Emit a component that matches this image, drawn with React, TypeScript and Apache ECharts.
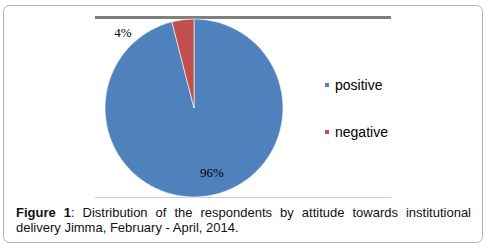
import React, { useEffect, useRef } from "react";
import * as echarts from "echarts";

const categories = ["positive", "negative"];
const values = [96, 4];
const sliceColors = ["#4F81BD", "#C0504D"];
const captionLine1 = "Figure 1: Distribution of the respondents by attitude towards institutional";
const captionLine2 = "delivery Jimma, February - April, 2014.";
const boldPrefix = "Figure 1";

const SANS = '"Liberation Sans", Arial, Helvetica, sans-serif';
const SERIF = '"Liberation Serif", "Times New Roman", serif';

function buildCaption(): any[] {
  const canvas = document.createElement("canvas");
  const ctx = canvas.getContext("2d")!;
  const measure = (t: string, bold: boolean) => {
    ctx.font = `${bold ? "bold " : ""}13px ${SANS}`;
    return ctx.measureText(t).width;
  };
  const words = captionLine1.split(" ");
  let consumed = 0;
  const segWords = words.map((w) => {
    const segs: { t: string; b: boolean }[] = [];
    const start = consumed;
    const boldChars = Math.max(0, Math.min(w.length, boldPrefix.length - start));
    if (boldChars > 0) segs.push({ t: w.slice(0, boldChars), b: true });
    if (boldChars < w.length) segs.push({ t: w.slice(boldChars), b: false });
    consumed += w.length + 1;
    return segs;
  });
  const widths = segWords.map((segs) => segs.reduce((s, g) => s + measure(g.t, g.b), 0));
  const left = 16;
  const right = 471;
  const total = widths.reduce((a, b) => a + b, 0);
  const gap = (right - left - total) / (words.length - 1);
  const els: any[] = [];
  let x = left;
  segWords.forEach((segs, i) => {
    let sx = x;
    segs.forEach((g) => {
      els.push({
        type: "text",
        x: sx,
        y: 212.5,
        style: {
          text: g.t,
          fill: "#111",
          font: `${g.b ? "bold " : ""}13px ${SANS}`,
          textAlign: "left",
          textVerticalAlign: "middle",
        },
      });
      sx += measure(g.t, g.b);
    });
    x += widths[i] + gap;
  });
  els.push({
    type: "text",
    x: left,
    y: 227.5,
    style: {
      text: captionLine2,
      fill: "#111",
      font: `13px ${SANS}`,
      textAlign: "left",
      textVerticalAlign: "middle",
    },
  });
  return els;
}

export default function App() {
  const ref = useRef<HTMLDivElement>(null);
  useEffect(() => {
    if (!ref.current) return;
    const chart = echarts.init(ref.current, undefined, { renderer: "svg" });
    const labelOffsets = [
      [12, 17],
      [-65, -28],
    ];
    chart.setOption({
      animation: false,
      backgroundColor: "#ffffff",
      legend: {
        data: categories,
        orient: "vertical",
        left: 318,
        top: 72,
        icon: "rect",
        itemWidth: 6,
        itemHeight: 6,
        itemGap: 31,
        selectedMode: false,
        textStyle: { fontSize: 14, fontFamily: SANS, color: "#000", lineHeight: 16 },
      },
      graphic: [
        {
          type: "rect",
          shape: { x: 3.5, y: 5.5, width: 479, height: 237, r: 6 },
          style: { fill: "none", stroke: "#b0b0b0", lineWidth: 1 },
          z: 0,
        },
        {
          type: "line",
          shape: { x1: 95, y1: 17.5, x2: 391, y2: 17.5 },
          style: { stroke: "#7f7f7f", lineWidth: 3 },
          z: 0,
        },
        {
          type: "line",
          shape: { x1: 95, y1: 197.5, x2: 391, y2: 197.5 },
          style: { stroke: "#cfcfcf", lineWidth: 1 },
          z: 0,
        },
        ...buildCaption(),
      ],
      series: [
        {
          type: "pie",
          center: [194, 108],
          radius: 89,
          startAngle: 90,
          clockwise: true,
          silent: true,
          emphasis: { disabled: true },
          itemStyle: { borderColor: "#ffffff", borderWidth: 0.6 },
          label: {
            show: true,
            position: "inside",
            formatter: "{c}%",
            fontFamily: SERIF,
            fontSize: 13,
            color: "#000",
          },
          labelLine: { show: false },
          labelLayout: (p: any) => ({ dx: labelOffsets[p.dataIndex][0], dy: labelOffsets[p.dataIndex][1] }),
          data: categories.map((name, i) => ({
            name,
            value: values[i],
            itemStyle: { color: sliceColors[i] },
          })),
        },
      ],
    });
    return () => chart.dispose();
  }, []);
  return (
    <div
      ref={ref}
      style={{ position: "fixed", left: 0, top: 0, width: 486, height: 252, background: "#fff" }}
    />
  );
}
